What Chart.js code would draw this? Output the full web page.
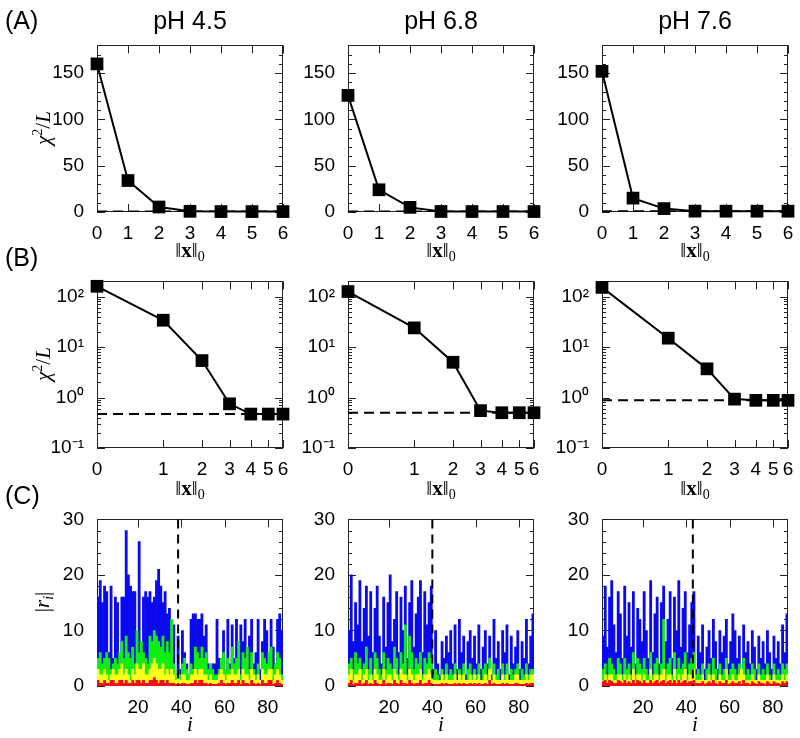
<!DOCTYPE html>
<html>
<head>
<meta charset="utf-8">
<script src="https://cdn.jsdelivr.net/npm/chart.js@4.4.1/dist/chart.umd.min.js"></script>
<style>
  body { margin: 0; background: #fff; width: 800px; height: 738px; position: relative; overflow: hidden; font-family: "Liberation Sans", Arial, sans-serif; }
  canvas { position: absolute; }
  .t { position: absolute; white-space: nowrap; color: #000; }
  .hdr { font-size: 25px; transform: translateX(-50%); }
  .tag { font-size: 25px; }
  .ax { font-family: "Liberation Serif", "DejaVu Serif", serif; font-size: 21px; transform: translateX(-50%); }
  .ay { font-family: "Liberation Serif", "DejaVu Serif", serif; font-size: 21px; transform: translate(-50%, -50%) rotate(-90deg); }
  sub { font-size: 14px; vertical-align: -4px; }
  sup { font-size: 14px; vertical-align: 8px; }
</style>
</head>
<body>
<script>
// ---- data ----
const phTitles = ['pH 4.5', 'pH 6.8', 'pH 7.6'];
const steps = [0, 1, 2, 3, 4, 5, 6];

// chi^2 / L versus ||x||_0
const chi45 = [160, 34, 5.4, 0.75, 0.47, 0.47, 0.47];
const chi68 = [126, 24, 5.0, 0.55, 0.5, 0.5, 0.5];
const chi76 = [152, 15, 3.7, 0.93, 0.88, 0.88, 0.88];
const floorLevel = [0.47, 0.5, 0.88];

const ticksA = [0, 50, 100, 150];
const ticksB = [0.1, 1, 10, 100];
const labelsB = ['10\u207B\u00B9', '10\u2070', '10\u00B9', '10\u00B2'];
const ticksC = [0, 10, 20, 30];
const ticksCx = [20, 40, 60, 80];

// residuals |r_i| (panel C), residue i = 1..86, one array per colour
const blue45 = [16, 19, 15, 18, 17, 6, 18, 5, 16, 15, 4, 16, 16, 28, 20, 18, 17, 17, 9, 26,
  6, 16, 17, 16, 17, 15, 16, 19, 21, 18, 15, 17, 13, 14, 12, 11, 2, 9, 3, 10,
  6, 4, 2, 12, 13, 13, 12, 12, 13, 9, 11, 4, 3, 4, 4, 12, 5, 2, 10, 3,
  12, 4, 11, 5, 12, 3, 11, 8, 12, 2, 9, 12, 4, 6, 12, 3, 8, 12, 10, 5,
  12, 7, 4, 12, 13, 10];
const green45 = [5, 6, 4, 5, 6, 5, 3, 4, 5, 4, 6, 8, 5, 9, 6, 5, 7, 4, 10, 6,
  8, 6, 5, 4, 9, 8, 10, 9, 8, 7, 9, 6, 8, 6, 12, 4, 2, 3, 2, 4,
  5, 3, 2, 4, 3, 7, 6, 5, 7, 5, 6, 3, 4, 3, 2, 2, 3, 5, 6, 3,
  5, 3, 7, 4, 5, 8, 2, 6, 5, 7, 3, 6, 3, 2, 4, 1, 6, 5, 4, 6,
  7, 3, 4, 6, 5, 2];
const yellow45 = [3, 2, 2, 3, 2, 1, 2, 3, 2, 2, 3, 4, 2, 3, 2, 1, 3, 2, 4, 3,
  3, 4, 2, 2, 3, 4, 5, 4, 3, 3, 4, 2, 3, 2, 3, 2, 1, 2, 1, 2,
  2, 1, 1, 2, 2, 3, 2, 3, 3, 2, 2, 1, 2, 1, 1, 1, 2, 3, 2, 1,
  2, 2, 3, 2, 2, 3, 1, 3, 2, 2, 1, 3, 2, 1, 2, 1, 3, 2, 2, 3,
  3, 1, 2, 3, 2, 1];
const red45 = [1, 0.5, 0.5, 1, 0.5, 0.5, 1, 1, 0.5, 0.5, 1, 1, 0.5, 1, 0.5, 0.5, 1, 0.5, 1, 1,
  0.5, 1, 0.5, 0.5, 1, 1, 1.5, 1, 0.5, 1, 1, 0.5, 1, 0.5, 0.5, 0.5, 0.3, 0.5, 0.3, 0.5,
  0.5, 0.3, 0.3, 0.5, 0.5, 1, 0.5, 1, 1, 0.5, 0.5, 0.3, 0.5, 0.3, 0.3, 0.3, 0.5, 1, 0.5, 0.3,
  0.5, 0.5, 1, 0.5, 0.5, 1, 0.3, 1, 0.5, 0.5, 0.3, 1, 0.5, 0.3, 0.5, 0.3, 1, 0.5, 0.5, 1,
  1, 0.3, 0.5, 1, 0.5, 0.3];

const blue68 = [10, 20, 8, 15, 11, 19, 8, 14, 18, 9, 17, 6, 14, 18, 9, 4, 16, 7, 15, 20,
  8, 12, 17, 6, 16, 10, 18, 5, 15, 19, 7, 13, 16, 19, 6, 17, 11, 15, 18, 3,
  10, 4, 2, 8, 5, 9, 6, 10, 4, 11, 3, 12, 6, 9, 2, 8, 10, 5, 9, 4,
  11, 3, 7, 10, 4, 9, 2, 12, 5, 8, 3, 10, 6, 11, 2, 9, 4, 7, 10, 3,
  8, 5, 12, 4, 9, 13];
const green68 = [4, 5, 3, 6, 4, 5, 3, 4, 7, 3, 5, 2, 6, 5, 3, 2, 6, 3, 5, 4,
  3, 7, 5, 2, 6, 4, 11, 2, 9, 6, 3, 5, 4, 6, 2, 5, 4, 6, 5, 2,
  3, 2, 1, 3, 2, 4, 2, 3, 2, 4, 1, 3, 2, 4, 1, 3, 4, 2, 3, 2,
  4, 1, 3, 4, 2, 5, 1, 4, 2, 3, 1, 4, 2, 4, 1, 3, 2, 3, 4, 1,
  3, 2, 4, 2, 3, 3];
const yellow68 = [2, 3, 1, 2, 2, 3, 1, 2, 3, 1, 2, 1, 3, 2, 1, 1, 3, 1, 2, 2,
  1, 3, 2, 1, 3, 2, 2, 1, 3, 2, 1, 2, 2, 3, 1, 2, 2, 3, 2, 1,
  1, 1, 1, 2, 1, 2, 1, 1, 1, 2, 1, 2, 1, 2, 1, 1, 2, 1, 2, 1,
  2, 1, 1, 2, 1, 3, 1, 2, 1, 1, 1, 2, 1, 2, 1, 1, 1, 2, 2, 1,
  1, 1, 2, 1, 2, 2];
const red68 = [0.5, 1, 0.3, 0.5, 0.5, 1, 0.3, 0.5, 1, 0.3, 0.5, 0.3, 1, 0.5, 0.3, 0.3, 1, 0.3, 0.5, 0.5,
  0.3, 1, 0.5, 0.3, 1, 0.5, 0.5, 0.3, 1, 0.5, 0.3, 0.5, 0.5, 1, 0.3, 0.5, 0.5, 1, 0.5, 0.3,
  0.3, 0.3, 0.3, 0.5, 0.3, 0.5, 0.3, 0.3, 0.3, 0.5, 0.3, 0.5, 0.3, 0.5, 0.3, 0.3, 0.5, 0.3, 0.5, 0.3,
  0.5, 0.3, 0.3, 0.5, 0.3, 1, 0.3, 0.5, 0.3, 0.3, 0.3, 0.5, 0.3, 0.5, 0.3, 0.3, 0.3, 0.5, 0.5, 0.3,
  0.3, 0.3, 0.5, 0.3, 0.5, 0.5];

const blue76 = [9, 18, 7, 16, 19, 11, 6, 17, 13, 5, 18, 9, 15, 7, 17, 4, 14, 12, 8, 17,
  10, 5, 19, 6, 13, 16, 4, 15, 18, 8, 12, 17, 5, 16, 10, 19, 7, 14, 17, 6,
  11, 15, 17, 3, 9, 6, 11, 3, 7, 10, 5, 12, 8, 3, 10, 6, 9, 12, 4, 8,
  13, 10, 5, 9, 3, 11, 6, 8, 4, 10, 7, 3, 9, 5, 8, 4, 10, 6, 3, 9,
  5, 8, 4, 11, 6, 13];
const green76 = [3, 4, 2, 5, 4, 3, 2, 5, 4, 2, 5, 3, 4, 2, 6, 2, 5, 4, 3, 5,
  3, 2, 6, 2, 4, 5, 2, 4, 12, 3, 4, 5, 2, 6, 3, 5, 3, 4, 6, 2,
  4, 5, 6, 2, 3, 2, 4, 1, 3, 4, 2, 5, 3, 1, 4, 2, 3, 5, 2, 3,
  4, 3, 2, 4, 1, 5, 2, 3, 2, 4, 3, 1, 4, 2, 3, 2, 4, 2, 1, 4,
  2, 3, 2, 4, 3, 4];
const yellow76 = [1, 2, 1, 2, 2, 1, 1, 2, 2, 1, 2, 1, 2, 1, 3, 1, 2, 2, 1, 2,
  1, 1, 3, 1, 2, 2, 1, 2, 3, 1, 2, 2, 1, 3, 1, 2, 1, 2, 3, 1,
  2, 2, 3, 1, 1, 1, 2, 1, 1, 2, 1, 2, 1, 1, 2, 1, 1, 3, 1, 1,
  2, 1, 1, 2, 3, 2, 1, 1, 1, 2, 1, 1, 2, 1, 1, 1, 2, 1, 1, 2,
  1, 1, 1, 2, 1, 2];
const red76 = [0.8, 1, 0.5, 1, 0.8, 0.5, 0.5, 1, 0.8, 0.5, 1, 0.5, 0.8, 0.5, 1, 0.5, 1, 0.8, 0.5, 1,
  0.5, 0.5, 1, 0.5, 0.8, 1, 0.5, 0.8, 1, 0.5, 0.8, 1, 0.5, 1, 0.5, 1, 0.5, 0.8, 1, 0.5,
  0.8, 0.8, 1, 0.5, 0.5, 0.5, 0.8, 0.3, 0.5, 0.8, 0.5, 1, 0.5, 0.3, 0.8, 0.5, 0.5, 1, 0.3, 0.5,
  0.8, 0.5, 0.5, 0.8, 0.3, 1, 0.5, 0.5, 0.3, 0.8, 0.5, 0.3, 0.8, 0.5, 0.5, 0.3, 0.8, 0.5, 0.3, 0.8,
  0.5, 0.5, 0.3, 0.8, 0.5, 0.8];

const cutIndex = [38.5, 40, 43];   // dashed vertical line in panel C

// ---- layout ----
const colLeft = [97, 348, 602];
const rowTop = [43, 279, 517];
const plotW = 186, plotH = 169;
const PAD_L = 64, PAD_T = 14, PAD_R = 16, PAD_B = 32;
const FONT = '"Liberation Sans", Arial, sans-serif';
const TICK_FONT = { family: FONT, size: 19 };

function addText(cls, html, x, y) {
  const d = document.createElement('div');
  d.className = 't ' + cls;
  d.innerHTML = html;
  d.style.left = x + 'px';
  d.style.top = y + 'px';
  document.body.appendChild(d);
}

function makeCanvas(col, row) {
  const c = document.createElement('canvas');
  c.width = PAD_L + plotW + PAD_R;
  c.height = PAD_T + plotH + PAD_B;
  c.style.left = (colLeft[col] - PAD_L) + 'px';
  c.style.top = (rowTop[row] - PAD_T) + 'px';
  document.body.appendChild(c);
  return c;
}

// frame with inward ticks on all four sides
const framePlugin = {
  id: 'frame',
  beforeDatasetsDraw(chart, args, o) {
    const { ctx, chartArea: a } = chart;
    const xs = chart.scales.x, ys = chart.scales.y;
    ctx.save();
    ctx.strokeStyle = '#222';
    ctx.lineWidth = 1;
    ctx.strokeRect(Math.round(a.left) + 0.5, Math.round(a.top) + 0.5, Math.round(a.width) - 1, Math.round(a.height) - 1);
    const seg = (x1, y1, x2, y2) => { ctx.beginPath(); ctx.moveTo(x1, y1); ctx.lineTo(x2, y2); ctx.stroke(); };
    const xt = (vals, len) => (vals || []).forEach(v => {
      const p = Math.round(xs.getPixelForValue(v)) + 0.5;
      seg(p, a.bottom, p, a.bottom - len);
      seg(p, a.top, p, a.top + len);
    });
    const yt = (vals, len) => (vals || []).forEach(v => {
      const p = Math.round(ys.getPixelForValue(v)) + 0.5;
      seg(a.left, p, a.left + len, p);
      seg(a.right, p, a.right - len, p);
    });
    xt(o.xMajor, 8); xt(o.xMinor, 4);
    yt(o.yMajor, 8); yt(o.yMinor, 4);
    ctx.restore();
  },
  afterDatasetsDraw(chart, args, o) {
    if (o.vline == null) return;
    const { ctx, chartArea: a } = chart;
    const p = chart.scales.x.getPixelForValue(o.vline);
    ctx.save();
    ctx.strokeStyle = '#000';
    ctx.lineWidth = 2;
    ctx.setLineDash([9, 6]);
    ctx.beginPath(); ctx.moveTo(p, a.top); ctx.lineTo(p, a.bottom); ctx.stroke();
    ctx.restore();
  }
};

function baseAxis(extra) {
  return Object.assign({
    grid: { display: false },
    border: { display: false }
  }, extra);
}

function lineChart(col, row, vals, level, logMode) {
  const xv = s => logMode ? s + 1 : s;
  const yMinor = [];
  if (logMode) {
    ticksB.forEach(d => [2, 3, 4, 5, 6, 7, 8, 9].forEach(m => { if (m * d < 200) yMinor.push(m * d); }));
  } else {
    for (let v = 10; v < 180; v += 10) if (!ticksA.includes(v)) yMinor.push(v);
  }
  const xTicks = steps.map(xv);
  new Chart(makeCanvas(col, row), {
    type: 'line',
    data: {
      datasets: [
        {
          data: steps.map((s, i) => ({ x: xv(s), y: vals[i] })),
          borderColor: '#000', backgroundColor: '#000', borderWidth: 2,
          pointStyle: 'rect', pointRadius: 9, pointBackgroundColor: '#000', pointBorderWidth: 0,
          clip: false
        },
        {
          data: [{ x: xv(steps[0]), y: level }, { x: xv(steps[steps.length - 1]), y: level }],
          borderColor: '#000', borderWidth: 2, borderDash: [10, 6], pointRadius: 0
        }
      ]
    },
    options: {
      responsive: false, animation: false,
      layout: { padding: { top: PAD_T, right: PAD_R, left: 0, bottom: 0 } },
      plugins: {
        legend: { display: false }, tooltip: { enabled: false },
        frame: { xMajor: xTicks, yMajor: logMode ? ticksB : ticksA, yMinor: yMinor }
      },
      scales: {
        x: baseAxis({
          type: logMode ? 'logarithmic' : 'linear',
          min: xv(0), max: xv(6),
          afterBuildTicks: s => { s.ticks = xTicks.map(v => ({ value: v })); },
          afterFit: s => { s.height = PAD_B; },
          ticks: { color: '#000', font: TICK_FONT, autoSkip: false, maxRotation: 0, padding: 2,
                   callback: (v, i) => String(steps[i]) }
        }),
        y: baseAxis({
          type: logMode ? 'logarithmic' : 'linear',
          min: logMode ? 0.1 : 0, max: logMode ? 200 : 180,
          afterBuildTicks: s => { s.ticks = (logMode ? ticksB : ticksA).map(v => ({ value: v })); },
          afterFit: s => { s.width = PAD_L; },
          ticks: { color: '#000', font: TICK_FONT, autoSkip: false, padding: 5,
                   callback: (v, i) => logMode ? labelsB[i] : String(ticksA[i]) }
        })
      }
    },
    plugins: [framePlugin]
  });
}

function residualChart(col, sets, cut) {
  const n = sets[0].length;
  const colors = ['#ee1111', '#ffff1a', '#11ee11', '#0a0aee'];
  const yMinor = [];
  for (let v = 2; v < 30; v += 2) if (!ticksC.includes(v)) yMinor.push(v);
  new Chart(makeCanvas(col, 2), {
    type: 'bar',
    data: {
      // bin i covers [i, i+1]
      datasets: sets.map((arr, k) => ({
        data: arr.map((v, i) => ({ x: i + 1.5, y: v })),
        backgroundColor: colors[k], borderWidth: 0,
        barPercentage: 1, categoryPercentage: 1, grouped: false
      }))
    },
    options: {
      responsive: false, animation: false,
      layout: { padding: { top: PAD_T, right: PAD_R, left: 0, bottom: 0 } },
      plugins: {
        legend: { display: false }, tooltip: { enabled: false },
        frame: { xMajor: ticksCx, yMajor: ticksC, yMinor: yMinor, vline: cut }
      },
      scales: {
        x: baseAxis({
          type: 'linear', offset: false, min: 1, max: n + 1,
          afterBuildTicks: s => { s.ticks = ticksCx.map(v => ({ value: v })); },
          afterFit: s => { s.height = PAD_B; },
          ticks: { color: '#000', font: TICK_FONT, autoSkip: false, maxRotation: 0, padding: 2 }
        }),
        y: baseAxis({
          min: 0, max: 30,
          afterBuildTicks: s => { s.ticks = ticksC.map(v => ({ value: v })); },
          afterFit: s => { s.width = PAD_L; },
          ticks: { color: '#000', font: TICK_FONT, autoSkip: false, padding: 5 }
        })
      }
    },
    plugins: [framePlugin]
  });
}

const chiSets = [chi45, chi68, chi76];
const resSets = [
  [red45, yellow45, green45, blue45],
  [red68, yellow68, green68, blue68],
  [red76, yellow76, green76, blue76]
];

for (let c = 0; c < 3; c++) {
  lineChart(c, 0, chiSets[c], floorLevel[c], false);
  lineChart(c, 1, chiSets[c], floorLevel[c], true);
  residualChart(c, resSets[c], cutIndex[c]);
  const mid = colLeft[c] + plotW / 2;
  addText('hdr', phTitles[c], mid, 6);
  addText('ax', '&#8214;<b>x</b>&#8214;<sub>0</sub>', mid, 238);
  addText('ax', '&#8214;<b>x</b>&#8214;<sub>0</sub>', mid, 476);
  addText('ax', '<i>i</i>', mid, 712);
}
addText('tag', '(A)', 5, 6);
addText('tag', '(B)', 5, 243);
addText('tag', '(C)', 5, 481);
addText('ay', '<i>&#967;</i><sup>2</sup>/<i>L</i>', 43, 128);
addText('ay', '<i>&#967;</i><sup>2</sup>/<i>L</i>', 43, 364);
addText('ay', '|<i>r</i><sub><i>i</i></sub>|', 43, 602);
</script>
</body>
</html>
